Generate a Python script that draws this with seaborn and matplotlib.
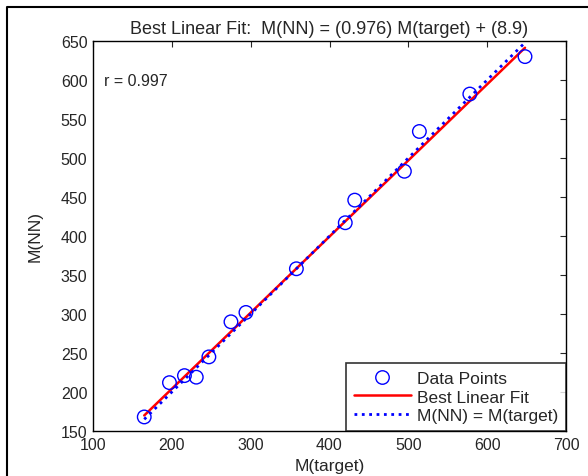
import numpy as np
import pandas as pd
import matplotlib
matplotlib.use('Agg')
import matplotlib.pyplot as plt
import seaborn as sns
from matplotlib.lines import Line2D

# values
target = [165, 197, 216, 231, 247, 275, 294, 358, 420, 432, 495, 514, 578, 648]
nn_out = [168, 212, 221, 219, 245, 290, 302, 358, 417, 446, 483, 534, 582, 630]
slope, intercept, r_val = 0.976, 8.9, 0.997

sns.set_style('white')
plt.rcParams['font.family'] = ['Liberation Sans', 'DejaVu Sans']

pts = pd.DataFrame({'target': target, 'nn': nn_out})
xs = np.array([min(target), max(target)])
lines = pd.DataFrame({'x': xs, 'fit': slope * xs + intercept, 'same': xs})

fig = plt.figure(figsize=(5.88, 4.77), dpi=100)
ax = fig.add_axes([93 / 588, 1 - 432 / 477, (566 - 93) / 588, (432 - 42) / 477])

sns.lineplot(data=lines, x='x', y='fit', color='red', lw=1.8, ax=ax, legend=False)
sns.lineplot(data=lines, x='x', y='same', color='blue', lw=2.0, ls=':', ax=ax, legend=False)
sns.scatterplot(data=pts, x='target', y='nn', marker='o', s=95, facecolor='none',
                edgecolor='blue', linewidth=1.0, ax=ax, legend=False, zorder=3)

ax.set_xlim(100, 700)
ax.set_ylim(150, 650)
ax.set_xticks(range(100, 701, 100))
ax.set_yticks(range(150, 651, 50))
ax.tick_params(direction='in', top=True, right=True, length=4, labelsize=11.5, width=0.8, pad=4)
for s in ax.spines.values():
    s.set_color('black'); s.set_linewidth(1.0)

ax.set_xlabel('M(target)', fontsize=12.5, labelpad=5)
ax.set_ylabel('M(NN)', fontsize=12.5, labelpad=13)
ax.set_title('Best Linear Fit:  M(NN) = (%.3f) M(target) + (%.1f)' % (slope, intercept),
             fontsize=13, pad=6)
ax.text(114, 600, 'r = %.3f' % r_val, fontsize=11.5, va='center')

handles = [Line2D([], [], marker='o', ls='none', mfc='none', mec='blue', ms=9.7),
           Line2D([], [], color='red', lw=1.8),
           Line2D([], [], color='blue', lw=2.0, ls=':')]
leg = ax.legend(handles, ['Data Points', 'Best Linear Fit', 'M(NN) = M(target)'],
                loc='lower right', fontsize=12.5, frameon=True, fancybox=False,
                borderaxespad=0, handlelength=3.3, handletextpad=0.35,
                labelspacing=0.2, borderpad=0.45)
leg.get_frame().set_edgecolor('black')
leg.get_frame().set_linewidth(1.2)

# screenshot frame lines at the left and top
fig.add_artist(Line2D([6.5 / 588, 6.5 / 588, 1], [0, 1 - 8 / 477, 1 - 8 / 477],
                      color='black', lw=1.5, transform=fig.transFigure))

fig.savefig('out.png', dpi=100)
